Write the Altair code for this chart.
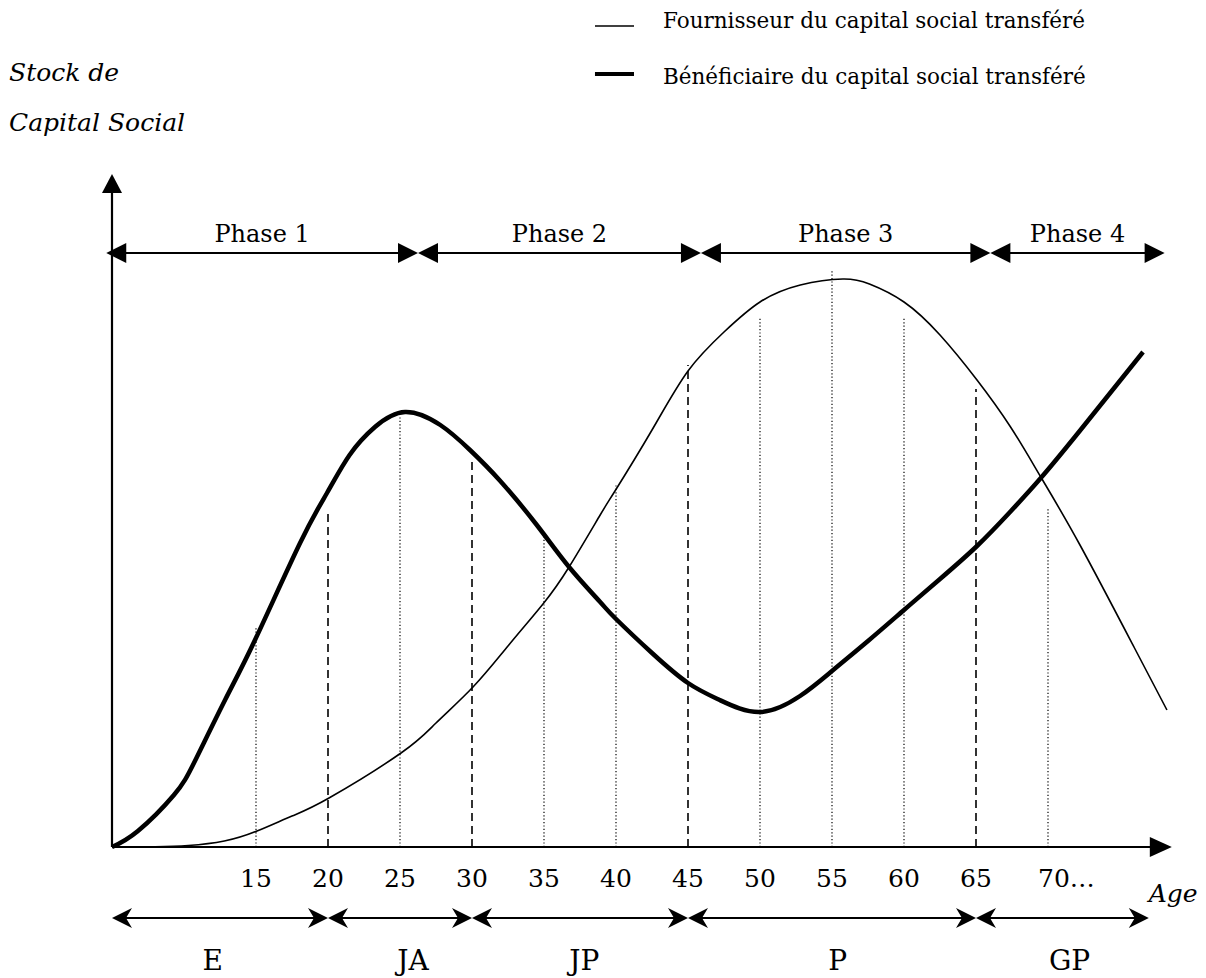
import altair as alt
import pandas as pd

# ---------------- data ----------------
# Bold curve: "Bénéficiaire du capital social transféré"
bold_age = [5.0, 6.8, 9.3, 10.76, 12.85, 14.93, 18.06, 19.93, 21.5, 23.26, 25.35, 27.8,
            29.86, 31.9, 34.5, 36.74, 38.9, 39.93, 42.5, 45.0, 47.2, 50.0, 52.78, 55.0,
            57.5, 60.0, 62.5, 65.07, 67.3, 69.5, 72.2, 76.6]
bold_val = [0, 16, 52, 86, 147, 207, 304, 354, 392, 420, 435, 422,
            397, 367, 322, 280, 245, 229, 194, 164, 147, 135, 151, 176,
            206, 237, 268, 301, 334, 369, 416, 495]

# Thin curve: "Fournisseur du capital social transféré"
thin_age = [5.0, 8.0, 10.3, 12.8, 15.07, 17.5, 20.07, 25.07, 27.5, 30.07, 32.5, 34.93, 36.74,
            38.9, 39.93, 42.5, 45.0, 47.5, 50.0, 52.8, 55.76, 57.6, 60.0, 62.5, 65.07,
            67.4, 69.5, 72.22, 75.97, 78.26]
thin_val = [0, 0.3, 1.5, 6, 16, 31, 49, 94, 124, 160, 201, 243, 280,
            332, 356, 417, 476, 515, 545, 562, 568, 563, 545, 512, 467,
            420, 370, 302, 200, 137]

dotted_age = [15, 25, 35, 40, 50, 55, 60, 70]
dotted_top = [219, 430, 312, 362, 530, 578, 530, 339]
dashed_age = [20, 30, 45, 65]
dashed_top = [338, 386, 482, 458]

tick_age = [15, 20, 25, 30, 35, 40, 45, 50, 55, 60, 65]
tick_label = ["15", "20", "25", "30", "35", "40", "45", "50", "55", "60", "65"]
last_tick_age = [70]
last_tick_label = ["70…"]

phase_names = ["Phase 1", "Phase 2", "Phase 3", "Phase 4"]
phase_bounds = [4.6, 26.25, 45.9, 66.0, 78.1]

stage_names = ["E", "JA", "JP", "P", "GP"]
stage_bounds = [5, 20, 30, 45, 65, 77]
stage_label_age = [12.0, 25.9, 37.8, 55.4, 71.5]

legend_labels = ["Fournisseur du capital social transféré",
                 "Bénéficiaire du capital social transféré"]
title_lines = ["Stock de", "Capital Social"]
x_title = "Age"

# ---------------- layout (not data) ----------------
W, H = 1190, 970
XS = alt.Scale(domain=[-2.2222, 80.4167], nice=False, zero=False)
YS = alt.Scale(domain=[-131, 839], nice=False, zero=False)
FONT = "DejaVu Serif"
BLACK = "#000000"

PHASE_Y = 594
STAGE_Y = -71
X_TIP = 78.6
Y_TIP = 673

HEAD_R = "M0,0L-2,-1L-2,1Z"
HEAD_L = "M0,0L2,-1L2,1Z"
HEAD_UP = "M0,0L-1,1.9L1,1.9Z"
HEAD_XR = "M0,0L-2.2,-1L-2.2,1Z"
STEALTH_R = "M0,0L-2,-1L-1.4,0L-2,1Z"
STEALTH_L = "M0,0L2,-1L1.4,0L2,1Z"


def X(f):
    return alt.X(f, type="quantitative", scale=XS, axis=None)


def Y(f):
    return alt.Y(f, type="quantitative", scale=YS, axis=None)


def heads(df, shape, size=400):
    return alt.Chart(df).mark_point(shape=shape, filled=True, size=size, color=BLACK,
                                    opacity=1, strokeWidth=0).encode(x=X("x"), y=Y("y"))


def text(df, **kw):
    base = dict(font=FONT, color=BLACK)
    base.update(kw)
    return alt.Chart(df).mark_text(**base).encode(x=X("x"), y=Y("y"), text="t:N")


layers = []

# vertical guides
dot_df = pd.DataFrame({"x": dotted_age, "top": dotted_top, "base": [0] * len(dotted_age)})
layers.append(alt.Chart(dot_df).mark_rule(color=BLACK, strokeWidth=1.2, strokeDash=[1.2, 2.2])
              .encode(x=X("x"), y=Y("base"), y2="top"))
dash_df = pd.DataFrame({"x": dashed_age, "top": dashed_top, "base": [0] * len(dashed_age)})
layers.append(alt.Chart(dash_df).mark_rule(color=BLACK, strokeWidth=1.6, strokeDash=[8, 5])
              .encode(x=X("x"), y=Y("base"), y2="top"))

# curves
layers.append(alt.Chart(pd.DataFrame({"x": thin_age, "y": thin_val}))
              .mark_line(color=BLACK, strokeWidth=1.6, interpolate="natural")
              .encode(x=X("x"), y=Y("y")))
layers.append(alt.Chart(pd.DataFrame({"x": bold_age, "y": bold_val}))
              .mark_line(color=BLACK, strokeWidth=4.5, interpolate="natural")
              .encode(x=X("x"), y=Y("y")))

# axes
ax_df = pd.DataFrame({"x": [5, 5], "x2": [X_TIP - 1.0, 5], "y": [0, 0], "y2": [0, Y_TIP - 12]})
layers.append(alt.Chart(ax_df).mark_rule(color=BLACK, strokeWidth=2.2)
              .encode(x=X("x"), x2="x2", y=Y("y"), y2="y2"))
layers.append(heads(pd.DataFrame({"x": [X_TIP], "y": [0]}), HEAD_XR))
layers.append(heads(pd.DataFrame({"x": [5], "y": [Y_TIP]}), HEAD_UP))

# phase arrows (top)
n = len(phase_names)
ph_df = pd.DataFrame({"x": [phase_bounds[i] + 0.6 for i in range(n)],
                      "x2": [phase_bounds[i + 1] - 0.6 for i in range(n)],
                      "y": [PHASE_Y] * n})
layers.append(alt.Chart(ph_df).mark_rule(color=BLACK, strokeWidth=2)
              .encode(x=X("x"), x2="x2", y=Y("y")))
layers.append(heads(pd.DataFrame({"x": phase_bounds[:-1], "y": [PHASE_Y] * n}), HEAD_L))
layers.append(heads(pd.DataFrame({"x": phase_bounds[1:], "y": [PHASE_Y] * n}), HEAD_R))
layers.append(text(pd.DataFrame({"x": [(phase_bounds[i] + phase_bounds[i + 1]) / 2 for i in range(n)],
                                 "y": [PHASE_Y + 11] * n, "t": phase_names}),
                   fontSize=24, align="center", baseline="alphabetic"))

# stage arrows (bottom)
m = len(stage_names)
st_df = pd.DataFrame({"x": [stage_bounds[i] + 0.6 for i in range(m)],
                      "x2": [stage_bounds[i + 1] - 0.6 for i in range(m)],
                      "y": [STAGE_Y] * m})
layers.append(alt.Chart(st_df).mark_rule(color=BLACK, strokeWidth=2.2)
              .encode(x=X("x"), x2="x2", y=Y("y")))
layers.append(heads(pd.DataFrame({"x": stage_bounds[:-1], "y": [STAGE_Y] * m}), STEALTH_L))
layers.append(heads(pd.DataFrame({"x": stage_bounds[1:], "y": [STAGE_Y] * m}), STEALTH_R))
layers.append(text(pd.DataFrame({"x": stage_label_age, "y": [STAGE_Y - 52] * m, "t": stage_names}),
                   fontSize=28, align="center", baseline="alphabetic"))

# tick labels
layers.append(text(pd.DataFrame({"x": tick_age, "y": [-40] * len(tick_age), "t": tick_label}),
                   fontSize=25, align="center", baseline="alphabetic"))
layers.append(text(pd.DataFrame({"x": last_tick_age, "y": [-40], "t": last_tick_label}),
                   fontSize=25, align="left", baseline="alphabetic", dx=-10))
layers.append(text(pd.DataFrame({"x": [77.0], "y": [-55], "t": [x_title]}),
                   fontSize=25, fontStyle="italic", align="left", baseline="alphabetic"))

# y title
layers.append(text(pd.DataFrame({"x": [-2.15, -2.15], "y": [766, 716], "t": title_lines}),
                   fontSize=25, fontStyle="italic", align="left", baseline="alphabetic"))

# legend
lg_df = pd.DataFrame({"x": [38.54], "x2": [41.25], "y": [821]})
layers.append(alt.Chart(lg_df).mark_rule(color=BLACK, strokeWidth=1.5)
              .encode(x=X("x"), x2="x2", y=Y("y")))
lg_df2 = pd.DataFrame({"x": [38.54], "x2": [41.25], "y": [773]})
layers.append(alt.Chart(lg_df2).mark_rule(color=BLACK, strokeWidth=4)
              .encode(x=X("x"), x2="x2", y=Y("y")))
layers.append(text(pd.DataFrame({"x": [43.26, 43.26], "y": [819, 763], "t": legend_labels}),
                   fontSize=21.5, align="left", baseline="alphabetic"))

chart = alt.layer(*layers).properties(
    width=W, height=H, padding=0,
    autosize=alt.AutoSizeParams(type="none"),
    background="white",
).configure_view(strokeWidth=0)

chart.save("out.html", embed_options={"renderer": "svg", "actions": False})
